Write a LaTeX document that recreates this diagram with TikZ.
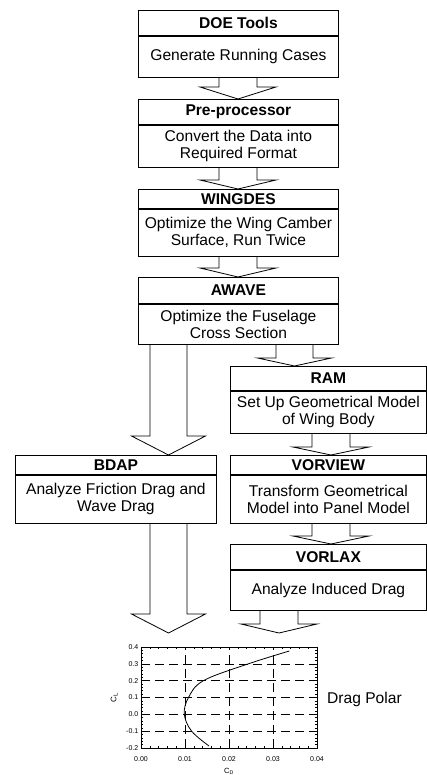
\documentclass[tikz,border=0pt]{standalone}
\usepackage{fontspec}
\setmainfont{Liberation Sans}
\usetikzlibrary{calc}

\newcommand{\boxfont}{\fontsize{15.6}{17}\selectfont}
\newcommand{\plotfont}{\fontsize{7}{8}\selectfont}
% hollow block arrow: x, from, to, half shaft, head length
\newcommand{\flowarrow}[5]{%
\draw[line width=0.8pt] let \p1=(#2), \p2=(#3), \p3=(#1,0) in
  (\x3-#4pt,\y1)--(\x3-#4pt,\y2+#5pt)--(\x3-2*#4pt,\y2+#5pt)--(\x3,\y2)
  --(\x3+2*#4pt,\y2+#5pt)--(\x3+#4pt,\y2+#5pt)--(\x3+#4pt,\y1);}

\begin{document}
\begin{tikzpicture}[x=1pt,y=-1pt,
  titlebox/.style={draw,line width=0.8pt,font=\boxfont\bfseries,inner sep=0pt,
    minimum width=#1,minimum height=25pt,anchor=north west},
  bodybox/.style={draw,line width=0.8pt,font=\boxfont,align=center,inner sep=0pt,
    minimum width=#1,anchor=north},
  griddash/.style={line width=0.6pt,dash pattern=on 9pt off 5pt},
  ticklbl/.style={font=\plotfont,inner sep=0.5pt}]
\useasboundingbox (0,0) rectangle (427,775);

\node[titlebox=200pt] (doe) at (138,10) {DOE Tools};
\node[bodybox=200pt,minimum height=41pt] (doebody) at (doe.south) {Generate Running Cases};
\node[titlebox=200pt] (pre) at (138,99) {Pre-processor};
\node[bodybox=200pt,minimum height=42pt] (prebody) at (pre.south) {Convert the Data into\\Required Format};
\node[titlebox=200pt,minimum height=19pt] (wing) at (138,189) {WINGDES};
\node[bodybox=200pt,minimum height=47pt] (wingbody) at (wing.south) {Optimize the Wing Camber\\Surface, Run Twice};
\node[titlebox=200pt,minimum height=26pt] (awave) at (138,277) {AWAVE};
\node[bodybox=200pt,minimum height=40pt] (awavebody) at (awave.south) {Optimize the Fuselage\\Cross Section};
\node[titlebox=196pt,minimum height=24pt] (ram) at (230,366) {RAM};
\node[bodybox=196pt,minimum height=42pt] (rambody) at (ram.south) {Set Up Geometrical Model\\of Wing Body};
\node[titlebox=201pt,minimum height=19pt] (bdap) at (15,455) {BDAP};
\node[bodybox=201pt,minimum height=48pt] (bdapbody) at (bdap.south) {Analyze Friction Drag and\\Wave Drag};
\node[titlebox=196pt,minimum height=19pt] (vorview) at (230,455) {VORVIEW};
\node[bodybox=196pt,minimum height=48pt] (vorviewbody) at (vorview.south) {Transform Geometrical\\Model into Panel Model};
\node[titlebox=196pt] (vorlax) at (230,544) {VORLAX};
\node[bodybox=196pt,minimum height=40pt] (vorlaxbody) at (vorlax.south) {Analyze Induced Drag};

\coordinate (polarL) at (168.5,633);
\coordinate (polarR) at (279,633);

\flowarrow{238}{doebody.south}{pre.north}{19}{12}
\flowarrow{238}{prebody.south}{wing.north}{19}{9}
\flowarrow{238}{wingbody.south}{awave.north}{19}{9}
\flowarrow{294.5}{awavebody.south}{ram.north}{18.5}{8}
\flowarrow{168.5}{awavebody.south}{bdap.north}{18.5}{19}
\flowarrow{331}{rambody.south}{vorview.north}{19}{8}
\flowarrow{331}{vorviewbody.south}{vorlax.north}{19}{8}
\flowarrow{168.5}{bdapbody.south}{polarL}{18.5}{19}
\flowarrow{279}{vorlaxbody.south}{polarR}{19}{9}

% drag polar
\begin{scope}[shift={(141,714.3)},x=44pt,y=16.83pt]
\foreach \i in {1,2,3} \draw[griddash] (\i,-2)--(\i,4);
\foreach \j in {-1,...,3} \draw[griddash] (0,\j)--(4,\j);
\draw[line width=0.7pt] (0,-2) rectangle (4,4);
\foreach \i in {0,0.2,...,4} {\draw[line width=0.5pt] (\i,-2)--++(0,1.8pt); \draw[line width=0.5pt] (\i,4)--++(0,-1.8pt);}
\foreach \i in {0,...,4} {\draw[line width=0.6pt] (\i,-2)--++(0,3.5pt); \draw[line width=0.6pt] (\i,4)--++(0,-3.5pt);}
\foreach \j in {-2,-1.8,...,4} {\draw[line width=0.5pt] (0,\j)--++(1.8pt,0); \draw[line width=0.5pt] (4,\j)--++(-1.8pt,0);}
\foreach \j in {-2,...,4} {\draw[line width=0.6pt] (0,\j)--++(3.5pt,0); \draw[line width=0.6pt] (4,\j)--++(-3.5pt,0);}
\foreach \j/\t in {-2/-0.2,-1/-0.1,0/0.0,1/0.1,2/0.2,3/0.3,4/0.4}
  \node[ticklbl,anchor=east,xshift=-2pt] (yl\j) at (0,\j) {\t};
\foreach \i/\t in {0/0.00,1/0.01,2/0.02,3/0.03,4/0.04}
  \node[ticklbl,anchor=north,yshift=-8pt] (xl\i) at (\i,-2) {\t};
\draw[line width=0.8pt] plot[smooth,tension=0.6] coordinates
  {(1.545,-1.88) (1.15,-1) (0.985,0) (1.08,1) (1.42,2) (2.44,3) (3.37,3.76)};
\node[font=\fontsize{8}{9}\selectfont,rotate=90,inner sep=0pt] (cl) at (-0.61,1) {C\textsubscript{L}};
\node[font=\fontsize{7.5}{8}\selectfont,inner sep=0pt] (cd) at (2,-3.4) {C\textsubscript{D}};
\end{scope}
\node[font=\boxfont,anchor=west,inner sep=0pt] (polar) at (327,699) {Drag Polar};
\end{tikzpicture}
\end{document}
